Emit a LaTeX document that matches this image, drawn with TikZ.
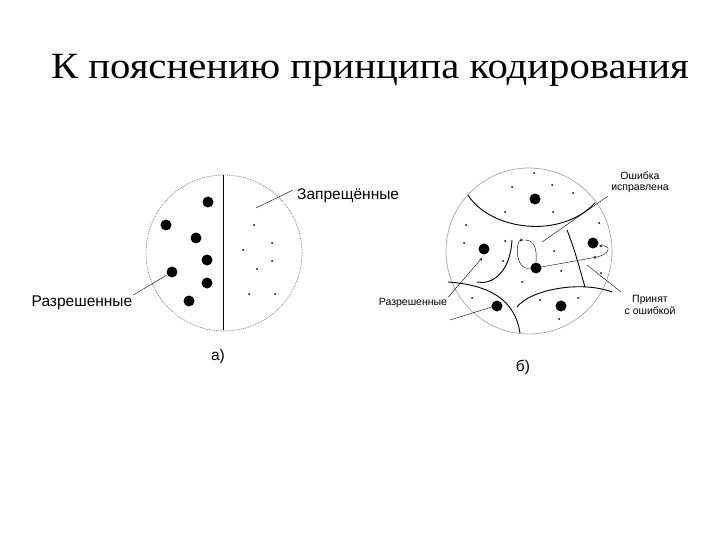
\documentclass[tikz,border=0pt]{standalone}
\usepackage{fontspec}
\setmainfont{Liberation Serif}
\newfontfamily\sans{Liberation Sans}
\begin{document}
\begin{tikzpicture}[x=1pt,y=-1pt,
 big/.style={circle,fill=black,inner sep=0pt,minimum size=11pt},
 sml/.style={circle,fill=black,inner sep=0pt,minimum size=2pt},
 lab/.style={font=\sans\fontsize{15.5}{17}\selectfont,align=center},
 slab/.style={font=\sans\fontsize{10.5}{11.5}\selectfont,align=center},
 bnd/.style={line width=0.9pt},
 arr/.style={->,>=stealth}]
\useasboundingbox (0,0) rectangle (720,540);
\node[inner sep=0pt,xscale=1.1] (title) at (370,70) {\fontsize{37}{40}\selectfont К пояснению принципа кодирования};
% a)
\draw[gray,densely dotted,line width=0.8pt] (224,253) circle (78);
\coordinate (vt) at (223,175); \coordinate (vb) at (223,330);
\draw (vt) -- (vb);
\foreach \p [count=\i] in {(208,202),(166,225),(196,238),(207,260),(172,272),(207,283),(189,301)} \node[big] (A\i) at \p {};
\foreach \p [count=\i] in {(254,225),(272,243),(243,250),(272,261),(257,269),(249,294),(275,294)} \node[sml] (a\i) at \p {};
\node[lab,anchor=west,inner sep=1pt] (zap) at (296,196) {Запрещённые};
\coordinate (zp) at (256,208);
\draw (zap.west) ++(-3,-6) -- (zp);
\node[lab,inner sep=1pt] (raz) at (82,303) {Разрешенные};
\draw (raz.north east) -- (A5);
\node[lab] (la) at (218,356) {а)};
% b)
\draw[gray!70,line width=0.7pt] (529,251) circle (83);
\foreach \p [count=\i] in {(535,199),(484,249),(593,243),(536,268),(497,306),(561,306)} \node[big] (B\i) at \p {};
\foreach \p [count=\i] in {(534,173),(512,187),(552,185),(573,193),(505,212),(553,212),(466,225),(505,241),(464,243),(503,261),(599,223),(554,251),(561,271),(601,273),(522,282),(472,298),(578,298),(540,300),(559,319)} \node[sml] (b\i) at \p {};
\draw[bnd] (468,195) .. controls (490,230) and (560,240) .. (595,203);
\draw[bnd] (512,240) .. controls (510,275) and (490,285) .. (477,282);
\draw[bnd] (448,282) .. controls (490,285) and (515,300) .. (520,333);
\draw[bnd] (517,307) .. controls (530,290) and (580,280) .. (612,292);
\draw[bnd] (567,230) .. controls (575,250) and (580,270) .. (585,287);
\draw[arr] (B4.west) .. controls (515,272) and (515,240) .. (523,240);
\draw (B4.north) .. controls (537,250) and (535,240) .. (525,240);
\draw[arr] (B4) -- (597,257);
\draw[arr] (597,257) .. controls (610,254) and (612,245) .. (599,246);
\node[slab] (osh) at (640,182) {Ошибка\\исправлена};
\coordinate (op) at (542,242);
\draw (osh.south west) -- (op);
\node[slab] (pr) at (650,305) {Принят\\с ошибкой};
\coordinate (pp) at (587,265);
\draw (pr.north west) -- (pp);
\node[slab,inner sep=1pt] (rz2) at (413,303) {Разрешенные};
\coordinate (r1) at (482,258); \coordinate (r2) at (495,306);
\draw[arr] (rz2.north east) -- (r1);
\draw[arr] (450,320) -- (r2);
\node[lab] (lb) at (523,367) {б)};
\end{tikzpicture}
\end{document}
